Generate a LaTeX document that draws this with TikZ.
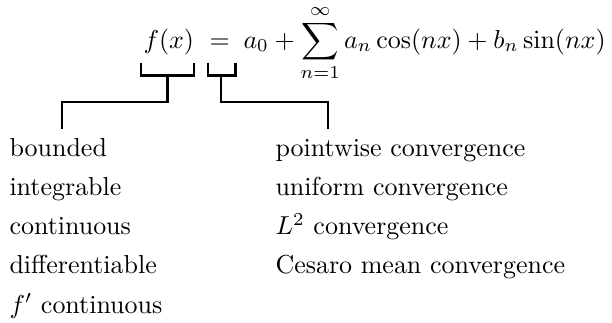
\documentclass[tikz,border=0pt]{standalone}
\begin{document}
\begin{tikzpicture}[x=0.385pt,y=-0.385pt,
  wire/.style={line width=0.85pt},
  item/.style={anchor=base west, inner sep=0pt}]
\useasboundingbox (0,0) rectangle (612,322);
% formula
\node[item] (fx) at (143,48) {$f(x)$};
\node[item] (eq) at (209,48) {$=$};
\node[item] (rhs) at (243,48) {$\displaystyle a_0+\sum_{n=1}^{\infty} a_n\cos(nx)+b_n\sin(nx)$};
% brackets
\coordinate (b1l) at (141,62.5);
\coordinate (b1r) at (194,62.5);
\coordinate (b1s) at (167.5,75.5);
\coordinate (b2l) at (208,62.5);
\coordinate (b2r) at (235.5,62.5);
\coordinate (b2s) at (221,75.5);
\draw[wire] (b1l) |- (b1r |- b1s) -- (b1r);
\draw[wire] (b2l) |- (b2r |- b2s) -- (b2r);
% left list
\node[item] (bd) at (9,156) {bounded};
\node[item] (ig) at (9,195.3) {integrable};
\node[item] (ct) at (9,234.6) {continuous};
\node[item] (df) at (9,273.9) {differentiable};
\node[item] (fc) at (9,313.2) {$f'$ continuous};
% right list
\node[item] (pw) at (275,156) {pointwise convergence};
\node[item] (uc) at (275,195.3) {uniform convergence};
\node[item] (l2) at (275,234.6) {$L^2$ convergence};
\node[item] (cm) at (275,273.9) {Cesaro mean convergence};
% connectors
\coordinate (e1) at (62,129);
\coordinate (e2) at (328,129);
\draw[wire] (b1s) -- (b1s |- 0,102) -| (e1);
\draw[wire] (b2s) -- (b2s |- 0,102) -| (e2);
\end{tikzpicture}
\end{document}
